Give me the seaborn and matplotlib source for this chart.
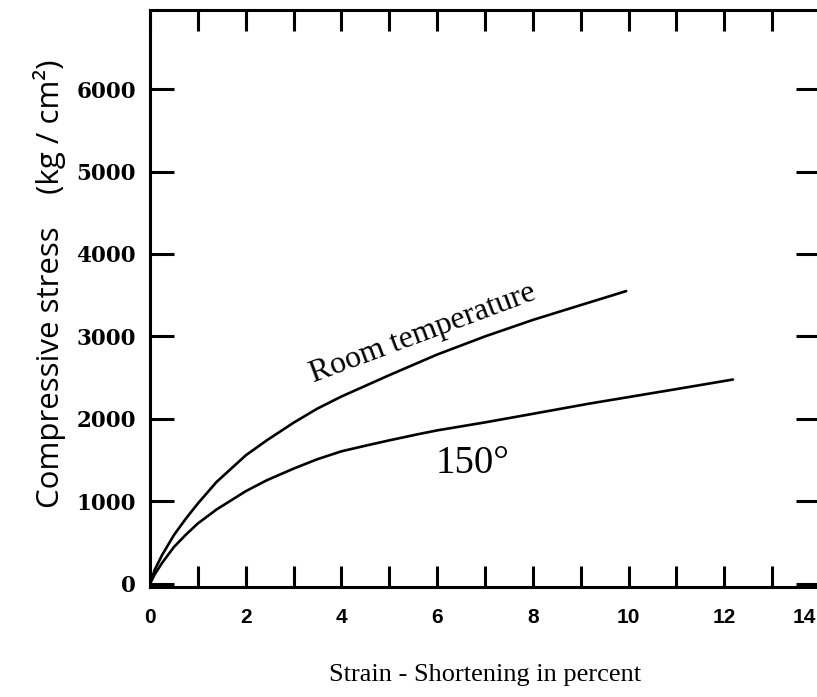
import numpy as np
import pandas as pd
import matplotlib
matplotlib.use("Agg")
import matplotlib.pyplot as plt
from matplotlib.transforms import ScaledTranslation
import seaborn as sns

# ---- data ----
room_x = [0, 0.1, 0.25, 0.5, 0.75, 1.0, 1.39, 2.0, 2.44, 3.0, 3.49, 4.0, 5.0, 6.0, 7.0, 8.0, 9.0, 9.95]
room_y = [0, 170, 345, 590, 790, 973, 1234, 1557, 1739, 1953, 2122, 2271, 2530, 2780, 3000, 3200, 3380, 3550]

hot_x = [0, 0.1, 0.25, 0.5, 0.75, 1.0, 1.39, 2.0, 2.44, 3.0, 3.49, 4.0, 4.53, 5.0, 5.58, 6.0, 7.0, 8.0, 9.2, 10.0, 11.0, 12.18]
hot_y = [0, 115, 250, 445, 595, 731, 900, 1122, 1255, 1396, 1509, 1606, 1678, 1739, 1811, 1860, 1957, 2061, 2187, 2264, 2361, 2477]

x_ticks = list(range(0, 15))
x_tick_labels = [str(v) if v % 2 == 0 else "" for v in x_ticks]
y_ticks = [0, 1000, 2000, 3000, 4000, 5000, 6000]
y_tick_labels = [str(v) for v in y_ticks]

label_room = "Room temperature"
label_hot = "150°"
x_label = "Strain - Shortening in percent"
y_label = "Compressive stress    (kg / cm²)"

sns.set_theme(style="ticks")
plt.rcParams["font.family"] = ["Liberation Serif", "DejaVu Serif"]
plt.rcParams["text.color"] = "black"
plt.rcParams["axes.labelcolor"] = "black"
plt.rcParams["xtick.color"] = "black"
plt.rcParams["ytick.color"] = "black"

W, H = 817, 697
fig = plt.figure(figsize=(W / 100, H / 100), dpi=100)
fig.patch.set_facecolor("white")

ax_left, ax_right, ax_top, ax_bot = 150, 820, 10, 587
ax = fig.add_axes([ax_left / W, 1 - ax_bot / H, (ax_right - ax_left) / W, (ax_bot - ax_top) / H])
ax.set_facecolor("white")

df = pd.concat([
    pd.DataFrame({"strain": room_x, "stress": room_y, "curve": "room"}),
    pd.DataFrame({"strain": hot_x, "stress": hot_y, "curve": "hot"}),
])
for name in ["room", "hot"]:
    sub = df[df["curve"] == name]
    sns.lineplot(data=sub, x="strain", y="stress", ax=ax, color="black",
                 linewidth=1.9, sort=False, estimator=None, legend=False)
for ln in ax.lines:
    ln.set_solid_joinstyle("round")
    ln.set_solid_capstyle("round")

ax.set_xlim(0, 14)
ax.set_ylim(-40, 6960)
ax.set_xlabel("")
ax.set_ylabel("")

for s in ax.spines.values():
    s.set_visible(True)
    s.set_linewidth(2.2)
    s.set_color("black")

ax.set_xticks(x_ticks)
ax.set_xticklabels(x_tick_labels, fontfamily=["Liberation Sans", "DejaVu Sans"], fontweight="bold")
ax.set_yticks(y_ticks)
ax.set_yticklabels(y_tick_labels, fontfamily=["DejaVu Serif"], fontweight="bold")

ax.tick_params(axis="x", which="major", direction="in", length=15, width=2.2,
               top=True, bottom=True, pad=15, labelsize=15, colors="black")
ax.tick_params(axis="y", which="major", direction="in", length=17, width=2.2,
               left=True, right=True, pad=10, labelsize=15.5, colors="black")

# keep last x label ("14") inside the picture
last = ax.xaxis.get_major_ticks()[-1].label1
last.set_horizontalalignment("right")
last.set_transform(last.get_transform() + ScaledTranslation(-4 / 100, 0, fig.dpi_scale_trans))

# axis titles
fig.text(485 / W, 1 - 675 / H, x_label, ha="center", va="center",
         fontsize=19, family=["Liberation Serif", "DejaVu Serif"])
fig.text(50 / W, 1 - 284 / H, y_label, ha="center", va="center", rotation=90,
         fontsize=22.5, family=["Open Sans", "DejaVu Sans"])

# curve labels
fig.text(423 / W, 1 - 334 / H, label_room, ha="center", va="center", rotation=20.5,
         fontsize=23, family=["Liberation Serif", "DejaVu Serif"])
fig.text(436 / W, 1 - 473 / H, label_hot, ha="left", va="baseline",
         fontsize=28, family=["Liberation Serif", "DejaVu Serif"])

fig.savefig("out.png", dpi=100, facecolor="white")
